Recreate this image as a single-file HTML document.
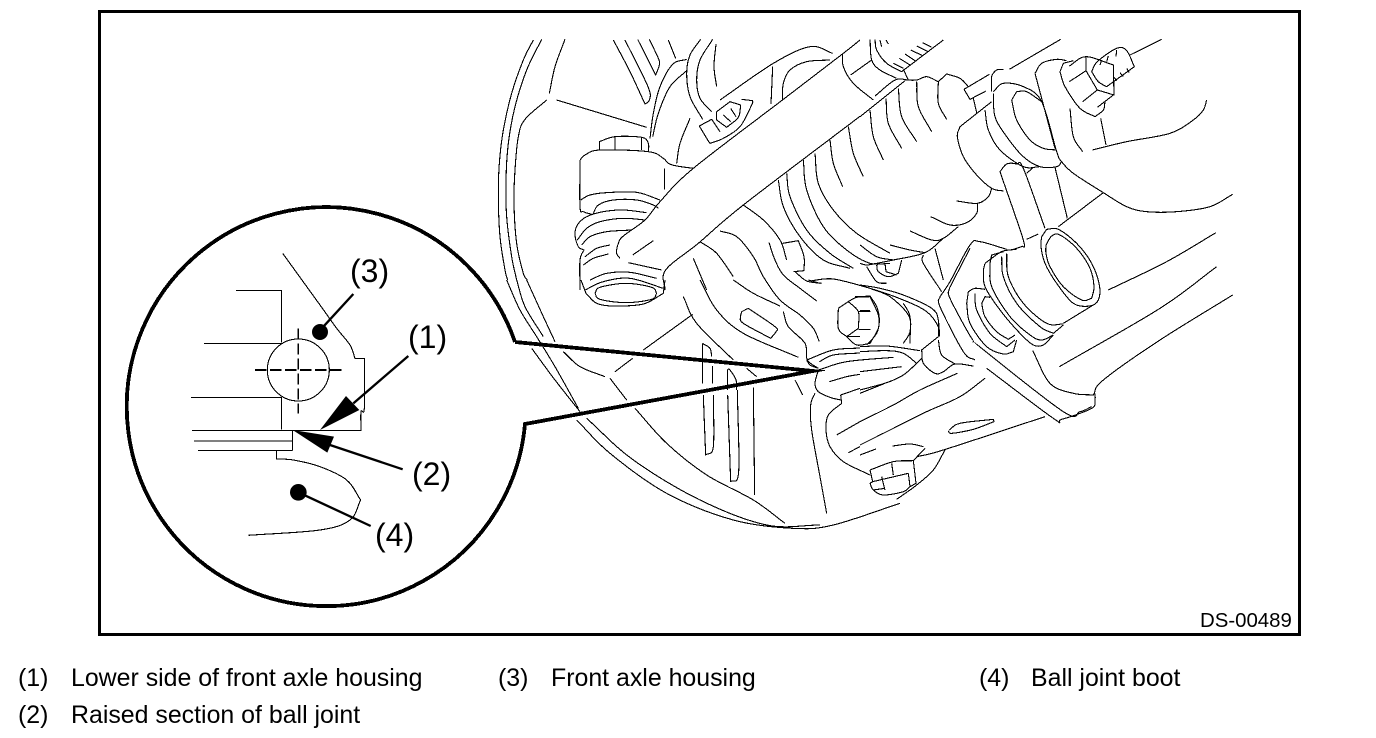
<!DOCTYPE html>
<html><head><meta charset="utf-8"><style>
html,body{margin:0;padding:0;background:#fff}
svg{display:block}
.l path{fill:none;stroke:#000;stroke-width:3.3;stroke-linejoin:round}
text{font-family:"Liberation Sans",sans-serif;fill:#000}
</style></head><body>
<svg width="1376" height="738" viewBox="0 0 1376 738" xmlns="http://www.w3.org/2000/svg">
<rect width="1376" height="738" fill="#fff"/>
<rect x="99.5" y="11.5" width="1200" height="623" fill="none" stroke="#000" stroke-width="3"/>

<!-- upper left -->
<g class="l" transform="translate(490,30) scale(.33333)" shape-rendering="crispEdges"><path d="
M130 30 100 90 65 190 40 300 28 400 25 500 30 620 45 720 53 750
M155 28 110 120 75 230 55 340 48 450 50 560 65 680 80 750
M170 210 105 268 85 320 75 420 72 520 80 640 100 730 112 750
M225 28 195 110 178 190 M200 210 470 292
M370 30 420 125 465 222 478 210 474 170 405 30
M443 28 497 135 508 105 505 85 478 28 M535 30 557 85
M590 88 548 103 510 170 490 250 480 325 M590 122 540 170 505 250 488 320
M632 28 600 75 590 130 600 200 638 268 M668 28 630 90 620 150 630 205 665 245
M678 42 672 110 680 170 M690 210 850 100 960 50 1028 70 M848 110 843 222
M1020 90 950 95 900 120 880 160 877 210
M628 288 665 268 690 305 M628 288 650 325 660 340 700 325 750 290 785 225 788 212 755 208
M680 245 720 215 752 225 745 262 710 292 680 270 680 245 M700 255 722 275 M722 235 738 260
M600 265 570 340 560 400
M1110 30 1060 70 880 208 610 415 510 515 465 570 400 618 385 640 380 670 390 685
M1110 259 760 525 625 640 527 720 525 780 M415 698 515 720 M428 675 490 632
M328 360 328 335 375 320 455 322 475 340 475 365 M375 320 375 358 M455 322 455 360
M270 390 285 375 330 360 475 365 520 385 535 400 560 408 610 415
M270 390 270 530 280 545 305 553 M523 415 523 478
M272 510 300 495 350 488 440 487 510 510 M310 550 325 525 370 510 440 510 490 525 505 535
M470 548 400 540 340 545 290 560 262 585 255 615 265 650 282 660 270 690 270 780
M465 570 400 565 330 575 290 595 262 630 M425 600 350 605 300 620 275 645
M360 645 320 655 285 680 M355 672 310 685 280 705
M300 750 350 730 420 727 500 745 M285 780 340 755 420 745 520 775
M1058 70 1060 110 1090 160 1150 210 M1082 135 1145 90
M1140 240 1150 320 1180 390 M1075 290 1090 370 1120 440 M1020 330 1030 400 1058 470
M975 370 985 460 1030 540 1100 610 1200 670 M940 390 950 480 1000 590 1070 660 1140 700 1200 700
M890 430 900 500 950 600 1020 670 1090 715 M865 450 880 530 930 620 1000 690 1080 715
M760 525 820 570 870 630 890 690
M610 685 650 780
M878 640 925 632 942 680 942 722 910 725
"/></g>

<!-- upper right -->
<g class="l" transform="translate(860,30) scale(.33333)" shape-rendering="crispEdges"><path d="
M30 28 35 90 60 120 110 145 M45 28 50 60 80 100 125 125 250 30
M0 260 135 152 M45 198 105 150 145 150 130 118
M100 100 130 115 M118 85 150 105 M135 72 165 92 M152 60 190 78 M170 48 205 65 M188 38 215 52
M60 30 65 50 M78 30 85 42
M135 150 170 150 200 140 235 155 260 132 300 145 325 170
M78 205 85 280 125 355 M115 175 125 260 170 335 M170 155 175 230 215 305 M235 155 235 220 260 268
M0 420 10 440
M312 178 388 133 M312 178 330 208 378 183 M340 205 350 248
M395 185 395 140 410 120 430 118 M448 118 602 28
M300 290 395 215 M300 290 292 320 310 380 350 435 395 475 430 483
M395 475 385 500 352 520 290 513 M352 520 350 550 320 578 270 585 212 560
M295 590 250 625 215 630 150 603 M250 625 195 668 100 690 50 700 20 705 0 700 M195 668 150 660 90 645 M100 690 50 680 0 645
M400 185 430 160 490 170 545 215 590 365 605 395 640 430 730 488 800 530 860 545 950 545 1050 530 1118 493
M455 210 470 185 500 185 545 215 M455 210 470 270 510 330 550 355 590 360
M400 190 405 260 440 320 490 380 540 410 590 410 605 395 M375 240 385 300 420 360 490 410 540 410
M420 425 440 402 470 402 490 415 555 595 M420 425 490 630 485 650 460 658
M500 430 520 412 M585 412 622 565 M595 590 730 488 M500 628 535 612
M525 130 545 100 590 88 620 92 M525 130 585 355
M600 125 615 170 660 235 705 260 730 240 735 215 M600 125 610 100 640 92
M628 108 678 80 760 105 762 195 712 180 668 215 M628 155 678 122 712 180 M678 80 678 122 M712 232 760 195
M695 125 712 95 770 55 800 62 823 110 740 170 715 155 695 125
M725 90 720 105 M745 78 740 95 M770 60 768 80 M760 140 770 152 M780 128 790 140 M800 115 808 128
M810 75 905 28
M630 235 640 320 668 365 M722 265 738 345 M697 360 800 335 930 310 1000 270 1030 240 1040 210
"/></g>

<!-- lower middle -->
<g class="l" transform="translate(500,280) scale(.33333)" shape-rendering="crispEdges"><path d="
M20 0 60 90 110 170 165 260 235 385
M50 0 75 80 130 170 M95 205 165 300 240 395
M80 0 130 110 165 185
M230 420 330 520 500 640 700 720 880 745 1000 735 1200 670
M260 415 400 540 600 660 800 735 960 735
M190 215 240 260 315 290 M330 295 380 360 M405 385 500 490 620 585 760 660 855 730
M920 240 1000 210 1080 204 M958 245 1000 225 1080 219 M955 270 1040 245 1180 232
M955 270 945 310 955 335 990 352 1022 360 M1022 345 1025 370 M1022 345 1080 325
M1025 370 985 405 978 450 990 500 1030 545 1110 585
M988 305 1040 290 1080 283 M1010 465 1080 425 M1045 518 1080 500
M945 340 932 375 935 450 960 590 980 700
M600 0 650 90 730 160 895 232
M550 50 590 130 700 240 M740 265 770 290 M430 210 578 103 M345 275 398 235
M885 300 908 345
M607 190 607 310 M610 345 612 400 617 525 640 500 640 345 M637 258 637 310 M607 190 630 205 635 230
M683 268 690 270 708 300 710 330 M683 268 683 330 M683 345 692 605 716 575 712 330 M760 322 764 645
M285 40 300 22 378 10 455 22 470 40 455 58 378 68 300 58 285 40
M258 40 290 70 340 78 430 72 490 40 495 0 M243 0 258 40
M700 0 760 40 840 78 M925 0 960 10
"/></g>

<!-- bolt / ball joint centre -->
<g class="l" transform="translate(700,200) scale(.33333)" shape-rendering="crispEdges"><path d="
M285 215 320 243 365 250
M60 93 110 110 160 170 190 230 240 300 300 345 340 385 358 425
M207 128 225 180 250 225 300 265 350 303
M0 125 50 160 100 230
M250 335 265 380 315 430 322 480 355 505
M125 335 145 325 225 380 228 395 212 415 130 370 122 350 125 335
M335 242 400 237 510 265 610 300 680 335 715 380 718 410
M510 265 570 290 625 345 630 395 610 430
M415 325 445 305 470 292 510 290 535 345 535 385 510 430 470 435 440 410 415 385 415 325
M445 305 475 335 475 385 440 410 M465 290 485 290 M475 335 512 335 M475 388 512 388 M440 410 480 410
M320 480 330 495 355 505
"/></g>

<!-- lower right -->
<g class="l" transform="translate(860,220) scale(.33333)" shape-rendering="crispEdges"><path d="
M545 50 560 28 595 28 650 70 695 130 718 195 715 240 690 258 640 250 590 190 555 130 543 80 545 50
M558 75 575 48 600 45 650 85 690 145 702 200 695 235 665 240 610 200 570 140 558 100 558 75
M695 258 610 310 M440 100 445 170 490 250 560 310 610 312 M425 110 430 170 470 250 540 320 580 340 610 315
M375 130 425 95 470 88 M390 130 395 105 430 95
M370 150 375 200 420 270 480 340 520 375 550 375 580 345 M390 130 395 200 450 290 510 345 545 360 580 345
M370 150 375 130
M320 250 325 215 345 205 375 208 M345 220 350 270 390 340 440 380 465 360
M320 250 330 310 380 380 430 402 460 395 470 360
M365 250 375 230 390 232 M365 250 375 290 410 335 445 358 465 345
M240 230 270 185 330 75 360 65 440 88
M268 205 270 235 335 355 365 385 610 575 660 575 695 560 M268 205 330 85
M240 230 240 260 310 395 345 420 M380 445 580 595 605 598 695 565 705 540 705 520
M225 85 250 180 M190 105 190 130 245 215
M745 210 920 125 1068 38 M598 440 900 265 1070 140
M1118 225 900 360 730 480 700 525 640 520 570 490 518 392
M235 350 235 300 215 265 130 225 60 205 0 195
M235 350 185 390 190 430 225 460 250 455 285 432 340 438 M235 360 245 405 285 432
M150 370 150 290 130 250 M0 230 30 228 50 260 58 300 50 340 20 375 M0 272 30 272 M0 328 30 328
M0 380 80 378 180 392 M0 395 80 392 130 400 170 430 M0 455 125 440
M185 415 170 430 130 465 80 488 0 510 M0 520 75 490
M292 460 180 510 100 555 0 605 M375 475 300 530 200 575 100 625 0 675
M555 590 250 690 170 710
M268 630 300 610 400 598 402 605 340 628 275 640 265 632
M30 750 100 725 160 722 168 790 150 800 M195 685 160 722 M0 705 48 687 M98 678 150 672 190 680
M30 750 38 785 30 790 40 810 70 825 130 815 150 800 M38 785 145 760 M95 730 100 765 M145 760 150 800 M65 770 75 810 M40 810 75 805
M255 690 220 750 170 795 110 838
M20 140 50 185 80 190 M50 135 55 155 85 170 115 160 125 120 M75 130 78 155 110 165
"/></g>

<!-- callout -->
<path d="M515 342 A199.5 199.5 0 1 0 525 424 L813 371 L515 342" fill="none" stroke="#000" stroke-width="3.8" stroke-linejoin="miter" stroke-miterlimit="30" shape-rendering="crispEdges"/>

<!-- inset -->
<g class="l" transform="translate(120,230) scale(.33333)" shape-rendering="crispEdges"><path d="
M488 70 600 225 650 295 690 345 705 385 733 385 733 535 723 545 723 601 216 601
M348 182 485 182 485 338 M252 340 485 340 M213 502 485 502 485 598
M222 633 518 633 M234 661 518 661 M518 601 518 661
M470 661 470 687 520 690 600 710 680 750 722 810 690 870 600 900 385 916
"/></g>
<g transform="translate(120,230) scale(.33333)">
<circle cx="535" cy="420" r="93" fill="none" stroke="#000" stroke-width="3.3" shape-rendering="crispEdges"/>
<path d="M405 420H665M535 295V550" fill="none" stroke="#000" stroke-width="5" stroke-dasharray="34 11" shape-rendering="crispEdges"/>
<circle cx="600" cy="306" r="24"/><circle cx="535" cy="787" r="25"/>
<path d="M700 192 610 290M865 378 700 520M848 718 630 645M535 787 752 888" stroke="#000" stroke-width="7" fill="none"/>
<path d="M600 600 678 498 718 540ZM518 600 642 620 622 668Z"/>
</g>
<g font-size="32">
<text x="408" y="348">(1)</text>
<text x="412" y="485">(2)</text>
<text x="350" y="282">(3)</text>
<text x="375" y="546">(4)</text>
</g>
<text x="1200" y="627" font-size="20.4">DS-00489</text>
<g font-size="24.9">
<text x="18" y="686">(1)</text><text x="71" y="686">Lower side of front axle housing</text>
<text x="18" y="723">(2)</text><text x="71" y="723">Raised section of ball joint</text>
<text x="498" y="686">(3)</text><text x="551" y="686">Front axle housing</text>
<text x="979" y="686">(4)</text><text x="1031" y="686">Ball joint boot</text>
</g>
</svg>
<script>
document.querySelectorAll('.l path').forEach(function(p){
  var out='';
  p.getAttribute('d').split('M').forEach(function(s){
    s=s.trim(); if(!s) return;
    var n=s.split(/\s+/).map(Number),q=[];
    for(var i=0;i+1<n.length;i+=2) q.push([n[i],n[i+1]]);
    function corner(i){
      if(i<=0||i>=q.length-1) return true;
      var a=[q[i][0]-q[i-1][0],q[i][1]-q[i-1][1]],b=[q[i+1][0]-q[i][0],q[i+1][1]-q[i][1]];
      var c=(a[0]*b[0]+a[1]*b[1])/(Math.hypot(a[0],a[1])*Math.hypot(b[0],b[1])||1);
      return c<0.6;
    }
    out+='M'+q[0][0]+' '+q[0][1];
    for(var k=0;k<q.length-1;k++){
      var p1=q[k],p2=q[k+1],c1,c2;
      if(corner(k)) c1=[p1[0]+(p2[0]-p1[0])/3,p1[1]+(p2[1]-p1[1])/3];
      else c1=[p1[0]+(p2[0]-q[k-1][0])/6,p1[1]+(p2[1]-q[k-1][1])/6];
      if(corner(k+1)) c2=[p2[0]-(p2[0]-p1[0])/3,p2[1]-(p2[1]-p1[1])/3];
      else c2=[p2[0]-(q[k+2][0]-p1[0])/6,p2[1]-(q[k+2][1]-p1[1])/6];
      out+='C'+c1[0].toFixed(1)+' '+c1[1].toFixed(1)+' '+c2[0].toFixed(1)+' '+c2[1].toFixed(1)+' '+p2[0]+' '+p2[1];
    }
  });
  p.setAttribute('d',out);
});
</script>
</body></html>
